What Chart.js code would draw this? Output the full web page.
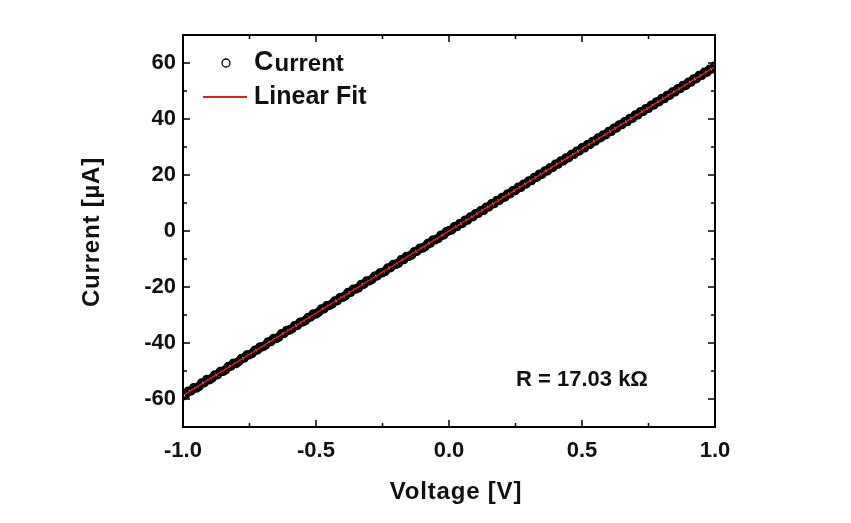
<!DOCTYPE html>
<html>
<head>
<meta charset="utf-8">
<script src="https://cdn.jsdelivr.net/npm/chart.js@4.4.0/dist/chart.umd.min.js"></script>
<style>
  html, body { margin: 0; padding: 0; background: #fff; }
  canvas { display: block; }
</style>
</head>
<body>
<canvas id="ivChart" width="851" height="523"></canvas>
<script>
// measured I-V sweep (V, uA)
const voltage = [
  -1.00,-0.99,-0.98,-0.97,-0.96,-0.95,-0.94,-0.93,-0.92,-0.91,-0.90,-0.89,-0.88,-0.87,-0.86,-0.85,-0.84,-0.83,-0.82,-0.81,
  -0.80,-0.79,-0.78,-0.77,-0.76,-0.75,-0.74,-0.73,-0.72,-0.71,-0.70,-0.69,-0.68,-0.67,-0.66,-0.65,-0.64,-0.63,-0.62,-0.61,
  -0.60,-0.59,-0.58,-0.57,-0.56,-0.55,-0.54,-0.53,-0.52,-0.51,-0.50,-0.49,-0.48,-0.47,-0.46,-0.45,-0.44,-0.43,-0.42,-0.41,
  -0.40,-0.39,-0.38,-0.37,-0.36,-0.35,-0.34,-0.33,-0.32,-0.31,-0.30,-0.29,-0.28,-0.27,-0.26,-0.25,-0.24,-0.23,-0.22,-0.21,
  -0.20,-0.19,-0.18,-0.17,-0.16,-0.15,-0.14,-0.13,-0.12,-0.11,-0.10,-0.09,-0.08,-0.07,-0.06,-0.05,-0.04,-0.03,-0.02,-0.01,
  0.00,
  0.01,0.02,0.03,0.04,0.05,0.06,0.07,0.08,0.09,0.10,0.11,0.12,0.13,0.14,0.15,0.16,0.17,0.18,0.19,0.20,
  0.21,0.22,0.23,0.24,0.25,0.26,0.27,0.28,0.29,0.30,0.31,0.32,0.33,0.34,0.35,0.36,0.37,0.38,0.39,0.40,
  0.41,0.42,0.43,0.44,0.45,0.46,0.47,0.48,0.49,0.50,0.51,0.52,0.53,0.54,0.55,0.56,0.57,0.58,0.59,0.60,
  0.61,0.62,0.63,0.64,0.65,0.66,0.67,0.68,0.69,0.70,0.71,0.72,0.73,0.74,0.75,0.76,0.77,0.78,0.79,0.80,
  0.81,0.82,0.83,0.84,0.85,0.86,0.87,0.88,0.89,0.90,0.91,0.92,0.93,0.94,0.95,0.96,0.97,0.98,0.99,1.00
];
const current = [
  -58.9,-58.4,-57.2,-57.1,-56.0,-56.1,-55.5,-54.3,-54.2,-53.0,-53.1,-52.5,-51.4,-51.3,-50.2,-50.1,-49.6,-48.4,-48.3,-47.2,
  -47.3,-46.6,-45.5,-45.4,-44.3,-44.2,-43.7,-42.6,-42.5,-41.4,-41.3,-40.8,-39.6,-39.5,-38.4,-38.4,-37.9,-36.7,-36.6,-35.5,
  -35.4,-34.9,-33.8,-33.7,-32.6,-32.5,-32.0,-30.9,-30.7,-29.6,-29.6,-29.0,-27.9,-27.8,-26.7,-26.6,-26.1,-25.0,-24.9,-23.8,
  -23.7,-23.2,-22.0,-21.9,-20.8,-20.7,-20.3,-19.1,-19.0,-17.9,-17.8,-17.3,-16.2,-16.0,-15.0,-14.9,-14.4,-13.2,-13.1,-12.0,
  -11.9,-11.5,-10.3,-10.2,-9.1,-9.0,-8.5,-7.4,-7.2,-6.2,-6.1,-5.6,-4.5,-4.3,-3.2,-3.1,-2.6,-1.5,-1.4,-0.3,
  0.1,
  0.4,1.5,1.6,2.6,2.7,3.8,3.9,5.0,5.1,6.2,6.3,7.3,7.4,8.5,8.6,9.7,9.8,10.9,11.0,12.0,
  12.1,13.2,13.3,14.4,14.5,15.6,15.6,16.7,16.8,17.9,18.0,19.1,19.2,20.3,20.3,21.4,21.5,22.6,22.7,23.8,
  23.9,25.0,25.0,26.1,26.2,27.3,27.4,28.5,28.6,29.7,29.7,30.8,30.9,32.0,32.1,33.2,33.3,34.3,34.4,35.5,
  35.6,36.7,36.8,37.9,38.0,39.0,39.1,40.2,40.3,41.4,41.5,42.6,42.7,43.7,43.8,44.9,45.0,46.1,46.2,47.3,
  47.3,48.4,48.5,49.6,49.7,50.8,50.9,52.0,52.0,53.1,53.2,54.3,54.4,55.5,55.6,56.7,56.7,57.8,57.9,58.9
];
// linear fit, R = 17.03 kOhm
const fitVoltage = [-1.0, 1.0];
const fitCurrent = [-58.7, 58.7];

const xTicks = [-1.0, -0.5, 0.0, 0.5, 1.0];
const xMinor = [-0.75, -0.25, 0.25, 0.75];
const yTicks = [-60, -40, -20, 0, 20, 40, 60];
const yMinor = [-50, -30, -10, 10, 30, 50];

const FONT = "'Liberation Sans', Arial, sans-serif";
const INK = "#111";
const FIT_RED = "#dc1e1e";

const framePlugin = {
  id: "frame",
  afterDraw(chart) {
    const ctx = chart.ctx;
    const a = chart.chartArea;
    const xs = chart.scales.x, ys = chart.scales.y;
    ctx.save();
    ctx.strokeStyle = "#000";
    ctx.lineWidth = 2;
    ctx.strokeRect(a.left, a.top, a.right - a.left, a.bottom - a.top);

    // inward ticks on all four sides
    ctx.lineWidth = 1.5;
    ctx.beginPath();
    const tickX = (vals, len) => vals.forEach(v => {
      const px = xs.getPixelForValue(v);
      ctx.moveTo(px, a.bottom); ctx.lineTo(px, a.bottom - len);
      ctx.moveTo(px, a.top); ctx.lineTo(px, a.top + len);
    });
    const tickY = (vals, len) => vals.forEach(v => {
      const py = ys.getPixelForValue(v);
      ctx.moveTo(a.left, py); ctx.lineTo(a.left + len, py);
      ctx.moveTo(a.right, py); ctx.lineTo(a.right - len, py);
    });
    tickX(xTicks, 7); tickX(xMinor, 4);
    tickY(yTicks, 7); tickY(yMinor, 4);
    ctx.stroke();

    // axis titles
    ctx.fillStyle = INK;
    ctx.textAlign = "center";
    ctx.textBaseline = "middle";
    ctx.font = "bold 24px " + FONT;
    ctx.letterSpacing = "0.8px";
    ctx.fillText("Voltage [V]", (a.left + a.right) / 2 + 7, 492);
    ctx.save();
    ctx.translate(92, (a.top + a.bottom) / 2 + 1);
    ctx.rotate(-Math.PI / 2);
    ctx.fillText("Current [\u00b5A]", 0, 0);
    ctx.restore();
    ctx.letterSpacing = "0px";

    // legend
    ctx.lineWidth = 1.3;
    ctx.beginPath();
    ctx.arc(226, 63, 4, 0, Math.PI * 2);
    ctx.stroke();
    ctx.textAlign = "left";
    ctx.font = "bold 27px " + FONT;
    ctx.fillText("C", 254, 63);
    const cw = ctx.measureText("C").width;
    ctx.font = "bold 24px " + FONT;
    ctx.fillText("urrent", 255 + cw, 64);
    ctx.strokeStyle = FIT_RED;
    ctx.lineWidth = 1.8;
    ctx.beginPath();
    ctx.moveTo(203, 97); ctx.lineTo(247, 97);
    ctx.stroke();
    ctx.font = "bold 25px " + FONT;
    ctx.fillText("Linear Fit", 254, 97);

    // resistance annotation
    ctx.font = "bold 22px " + FONT;
    ctx.fillText("R = 17.03 k\u03a9", 516, 380);
    ctx.restore();
  }
};

new Chart(document.getElementById("ivChart"), {
  type: "scatter",
  data: {
    datasets: [
      {
        label: "Current",
        data: voltage.map((v, i) => ({ x: v, y: current[i] })),
        pointStyle: "circle",
        pointRadius: 3.5,
        pointBorderWidth: 2.5,
        pointBorderColor: "#000",
        pointBackgroundColor: "rgba(0,0,0,0)",
        order: 2,
      },
      {
        label: "Linear Fit",
        type: "line",
        data: fitVoltage.map((v, i) => ({ x: v, y: fitCurrent[i] })),
        borderColor: FIT_RED,
        borderWidth: 1.6,
        pointRadius: 0,
        fill: false,
        order: 1,
      },
    ],
  },
  options: {
    responsive: false,
    animation: false,
    devicePixelRatio: 1,
    layout: { padding: { left: 0, top: 35, right: 136, bottom: 0 } },
    plugins: { legend: { display: false }, tooltip: { enabled: false } },
    scales: {
      x: {
        type: "linear",
        min: -1, max: 1,
        grid: { display: false, drawTicks: false },
        border: { display: false },
        afterFit(s) { s.height = 96; },
        afterBuildTicks(s) { s.ticks = xTicks.map(v => ({ value: v })); },
        ticks: {
          padding: 11,
          color: INK,
          font: { family: FONT, size: 22, weight: "bold" },
          callback: v => v.toFixed(1),
        },
      },
      y: {
        type: "linear",
        min: -70, max: 70,
        grid: { display: false, drawTicks: false },
        border: { display: false },
        afterFit(s) { s.width = 183; },
        afterBuildTicks(s) { s.ticks = yTicks.map(v => ({ value: v })); },
        ticks: {
          padding: 7,
          color: INK,
          font: { family: FONT, size: 22, weight: "bold" },
        },
      },
    },
  },
  plugins: [framePlugin],
});
</script>
</body>
</html>
